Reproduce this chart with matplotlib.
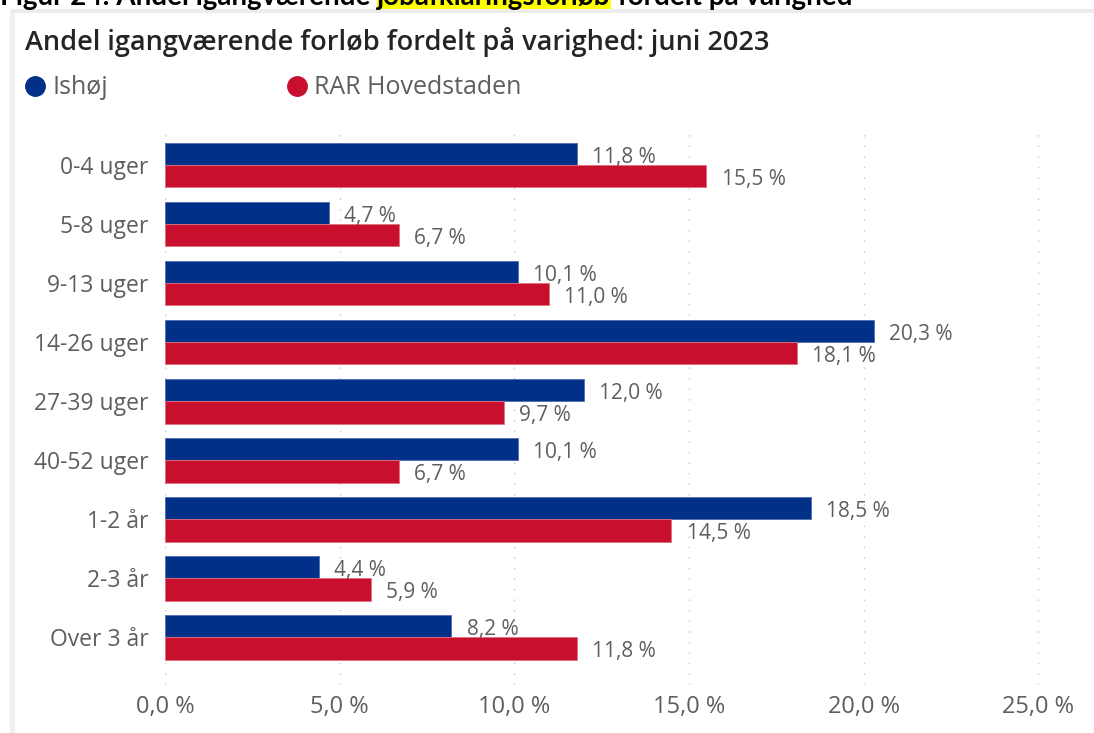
import matplotlib.pyplot as plt
from matplotlib.lines import Line2D
from matplotlib.patches import Rectangle
from matplotlib.ticker import FuncFormatter

# Data
categories = ["0-4 uger", "5-8 uger", "9-13 uger", "14-26 uger", "27-39 uger",
              "40-52 uger", "1-2 år", "2-3 år", "Over 3 år"]
ishoej = [11.8, 4.7, 10.1, 20.3, 12.0, 10.1, 18.5, 4.4, 8.2]
rar_hovedstaden = [15.5, 6.7, 11.0, 18.1, 9.7, 6.7, 14.5, 5.9, 11.8]
series_names = ["Ishøj", "RAR Hovedstaden"]
x_ticks = [0, 5, 10, 15, 20, 25]

title = "Andel igangværende forløb fordelt på varighed: juni 2023"
caption_parts = ["Figur 24: Andel igangværende ", "jobafklaringsforløb", " fordelt på varighed"]

# Style
blue = "#003087"
red = "#c8102e"
grey_text = "#605e5c"
font = "Open Sans"

plt.rcParams['font.family'] = [font, 'DejaVu Sans']

W, H = 1094, 733
fig = plt.figure(figsize=(W / 100, H / 100), dpi=100)

def px(x, y):
    # pixel position (from top-left) -> figure fraction
    return x / W, 1 - y / H

# panel border (light grey frame on top and left)
fig.add_artist(Rectangle(px(10, 13), (W - 10) / W, 4 / H, transform=fig.transFigure,
                         color="#ececec", lw=0))
fig.add_artist(Rectangle(px(10, H), 5 / W, (H - 13) / H, transform=fig.transFigure,
                         color="#f0f0f0", lw=0))

# cut-off caption above the panel, with highlighted word
renderer = fig.canvas.get_renderer()
cx = 0
for k, part in enumerate(caption_parts):
    t = fig.text(*px(cx, 5), part, fontsize=20, fontweight="bold", color="black",
                 family=["Lato", "DejaVu Sans"], va="baseline", ha="left", zorder=3)
    ext = t.get_window_extent(renderer)
    if k == 1:
        fig.add_artist(Rectangle(px(ext.x0, 9), ext.width / W, 9 / H,
                                 transform=fig.transFigure, color="#ffff00", lw=0, zorder=2))
    cx = ext.x1

# title and legend
fig.text(*px(25, 42), title, fontsize=19.5, fontweight="semibold", color="#252423",
         va="center", ha="left")
legend_x = [34.5, 296.5]
for name, col, lx in zip(series_names, [blue, red], legend_x):
    fig.add_artist(Line2D([lx / W], [1 - 86 / H], marker="o", markersize=14,
                          color=col, transform=fig.transFigure))
    fig.text(*px(lx + 18, 87), name, fontsize=18, color=grey_text, va="center", ha="left")

# axes
ax = fig.add_axes([165 / W, 1 - 685 / H, 876 / W, (685 - 126) / H])
y = list(range(len(categories)))
bh = 0.38
bars_a = ax.barh([i - bh / 2 for i in y], ishoej, height=bh, color=blue,
                 edgecolor="#4d6bb0", linewidth=0.6, zorder=3)
bars_b = ax.barh([i + bh / 2 for i in y], rar_hovedstaden, height=bh, color=red,
                 edgecolor="#e0707f", linewidth=0.6, zorder=3)

for bars, vals in [(bars_a, ishoej), (bars_b, rar_hovedstaden)]:
    for b, v in zip(bars, vals):
        ax.annotate(f"{v:.1f} %".replace(".", ","),
                    (b.get_width(), b.get_y() + b.get_height() / 2),
                    xytext=(11, -2.5), textcoords="offset points",
                    va="center", ha="left", fontsize=15, color=grey_text, zorder=4)

ax.set_yticks(y)
ax.set_yticklabels(categories)
ax.set_ylim(len(categories) - 1 + 0.81, -0.66)
ax.set_xlim(0, 25.08)
ax.set_xticks(x_ticks)
ax.xaxis.set_major_formatter(FuncFormatter(lambda v, p: f"{v:.1f} %".replace(".", ",")))
ax.tick_params(axis="both", length=0, labelcolor=grey_text)
ax.tick_params(axis="x", pad=7, labelsize=17)
ax.tick_params(axis="y", pad=12, labelsize=16.5)
ax.grid(axis="x", color="#c8c8c8", linestyle=(0, (1.1, 6.5)), linewidth=1, zorder=0)
for s in ax.spines.values():
    s.set_visible(False)

fig.savefig("out.png", dpi=100)
